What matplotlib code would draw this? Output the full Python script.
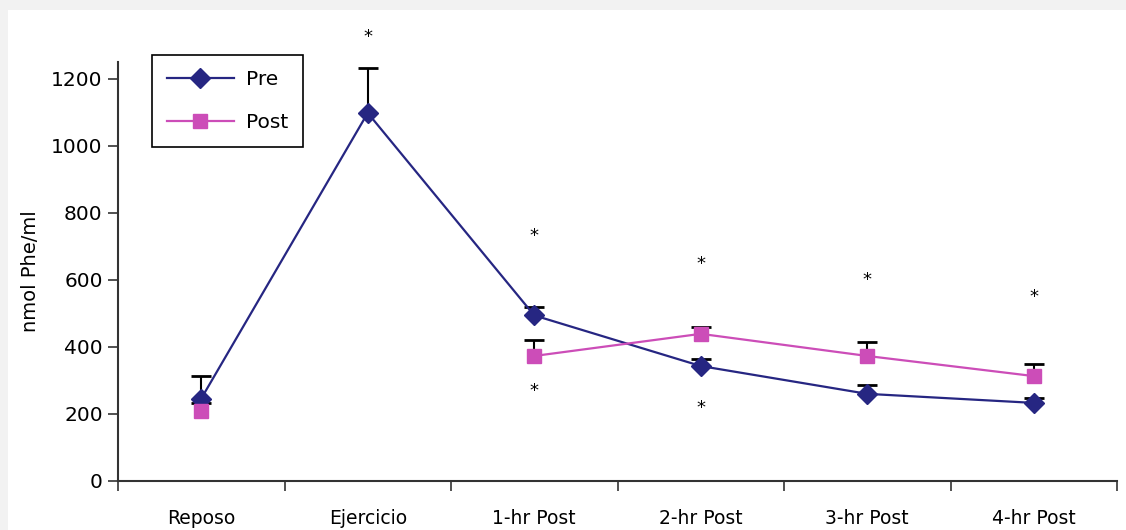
import numpy as np
from matplotlib import pyplot
from matplotlib import patches

categories = ['Reposo', 'Ejercicio', '1-hr Post', '2-hr Post', '3-hr Post', '4-hr Post']
pre_values = [246, 1098, 494, 343, 260, 233]
pre_err = [68, 135, 26, 21, 27, 15]
post_values = [209, np.nan, 373, 439, 373, 313]
post_err = [24, np.nan, 48, 21, 42, 36]
# significance stars (category index, y value)
star_x = [1, 2, 2, 3, 3, 4, 5]
star_y = [1325, 730, 268, 647, 217, 599, 548]

pre_color = '#262682'
post_color = '#CC4DB8'

fig = pyplot.figure(figsize=(11.26, 5.30), dpi=100, facecolor='#f2f2f2')
fig.patches.append(patches.Rectangle((8 / 1126, 0), 1, 1 - 10 / 530, transform=fig.transFigure,
                                     facecolor='white', edgecolor='none', zorder=-10))
ax = fig.add_axes([118 / 1126, 49 / 530, 999 / 1126, 419 / 530])
ax.set_facecolor('none')

x = np.arange(len(categories))
pre = np.array(pre_values, dtype=float)
post = np.array(post_values, dtype=float)


def upper_errorbar(values, errs):
    # only the upper half of the error bar is shown
    _, caplines, _ = ax.errorbar(x, values, yerr=[np.zeros(len(x)), np.nan_to_num(errs)],
                                 fmt='none', ecolor='black', elinewidth=1.5,
                                 capsize=7, capthick=2, zorder=2)
    caplines[0].set_visible(False)


upper_errorbar(pre, pre_err)
upper_errorbar(post, post_err)
ax.plot(x, pre, '-D', color=pre_color, lw=1.6, ms=10, label='Pre', zorder=3)
ax.plot(x, post, '-s', color=post_color, lw=1.6, ms=9.5, label='Post', zorder=3)

for sx, sy in zip(star_x, star_y):
    ax.text(sx, sy, '*', ha='center', va='center', fontsize=13, color='black', clip_on=False)

ax.set_xlim(-0.5, len(categories) - 0.5)
ax.set_ylim(0, 1250)
ax.set_yticks([0, 200, 400, 600, 800, 1000, 1200])
ax.set_xticks(x)
ax.set_xticklabels(categories, fontsize=13.5)
ax.set_xticks(np.arange(-0.5, len(categories)), minor=True)
ax.tick_params(axis='x', which='major', length=0, pad=20)
ax.tick_params(axis='x', which='minor', length=7, width=1.2, color='#333333')
ax.tick_params(axis='y', length=7, width=1.2, color='#333333', labelsize=14.5, pad=4)
for side in ['top', 'right']:
    ax.spines[side].set_visible(False)
for side in ['left', 'bottom']:
    ax.spines[side].set_color('#333333')
    ax.spines[side].set_linewidth(1.5)
ax.set_ylabel('nmol Phe/ml', fontsize=14, labelpad=8)

leg = ax.legend(loc='upper left', bbox_to_anchor=(0.034, 1.017), borderaxespad=0,
                fontsize=14.5, handlelength=3.3, labelspacing=1.2, borderpad=0.75,
                handletextpad=0.6, fancybox=False, framealpha=1, edgecolor='black')
leg.get_frame().set_linewidth(1.2)

pyplot.savefig('out.png', dpi=100, facecolor=fig.get_facecolor())
